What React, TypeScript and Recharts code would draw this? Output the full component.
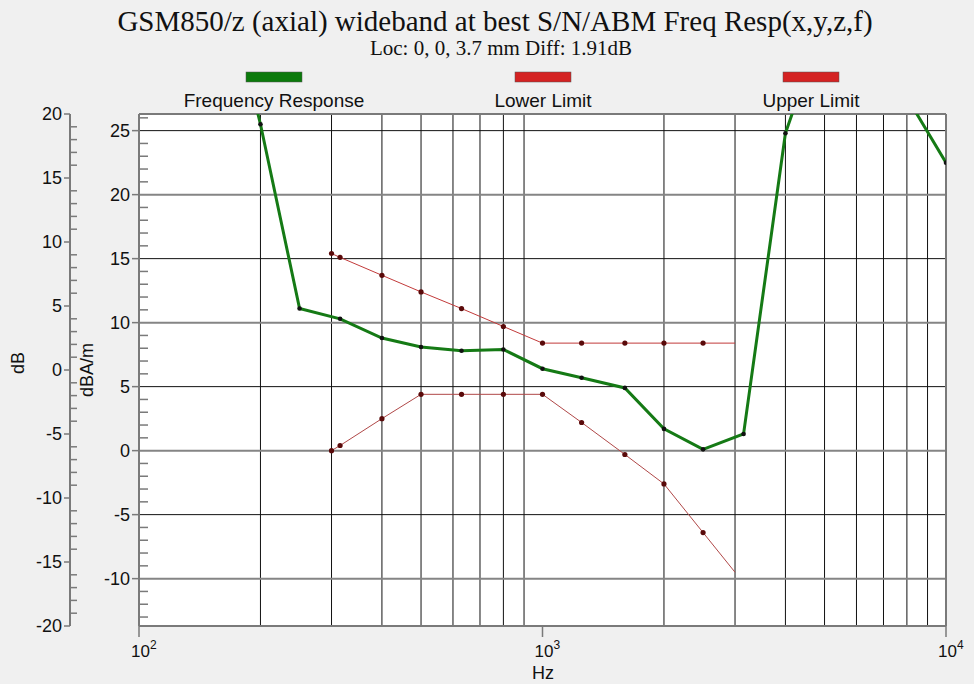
import { ComposedChart, Line, XAxis, YAxis, ReferenceLine, CartesianGrid } from 'recharts';

// 1/3 octave points of the measured response (dBA/m)
const respFreqs = [160, 200, 250, 315, 400, 500, 630, 800, 1000, 1250, 1600, 2000, 2500, 3150, 4000, 5000, 6300, 8000, 10000];
const respValues = [38, 25.5, 11.1, 10.3, 8.8, 8.1, 7.8, 7.9, 6.4, 5.7, 4.9, 1.7, 0.1, 1.3, 24.8, 33.6, 34, 27.6, 22.5];

// limit mask
const limitFreqs = [300, 315, 400, 500, 630, 800, 1000, 1250, 1600, 2000, 2500, 3000];
const upperLimit = [15.4, 15.1, 13.7, 12.4, 11.1, 9.7, 8.4, 8.4, 8.4, 8.4, 8.4, 8.4];
const lowerLimit = [0.0, 0.4, 2.5, 4.4, 4.4, 4.4, 4.4, 2.2, -0.3, -2.6, -6.4, -9.5];

const xTicks = [100, 1000, 10000];
const xGrid = [200, 300, 400, 500, 600, 700, 800, 900, 2000, 3000, 4000, 5000, 6000, 7000, 8000, 9000];
const yGridDark = [25, 15, 5, -5];
const yGridGray = [20, 10, 0, -10];
const dbaDomain = [-13.7, 26.3];
const dbDomain = [-20, 20];

const range = (a: number, b: number) => {
  const out: number[] = [];
  for (let i = a; i <= b; i++) out.push(i);
  return out;
};
const dbaTicks = range(-13, 26);
const dbTicks = range(-20, 20);

const respData = respFreqs.map((f, i) => ({ f, v: respValues[i] }));
const upperData = limitFreqs.map((f, i) => ({ f, v: upperLimit[i] }));
const lowerData = limitFreqs.map((f, i) => ({ f, v: lowerLimit[i] }));

const SANS = 'Arial, "Liberation Sans", sans-serif';
const SERIF = '"Times New Roman", "Liberation Serif", serif';
const AXIS = '#7a7a7a';

const makeYTick = (majorLen: number, minorLen: number) => (props: any) => {
  const { x, y, payload } = props;
  const v = payload.value;
  if (v % 5 === 0) {
    return (
      <g>
        <line x1={x - majorLen} y1={y} x2={x} y2={y} stroke={AXIS} strokeWidth={1.5} />
        <text x={x - majorLen - 2} y={y} textAnchor="end" dominantBaseline="central" fontSize={18} fontFamily={SANS} fill="#111">
          {v}
        </text>
      </g>
    );
  }
  return <line x1={x} y1={y} x2={x + minorLen} y2={y} stroke={AXIS} strokeWidth={1.5} />;
};

const PowTick = (props: any) => {
  const { x, y, payload } = props;
  const exp = Math.round(Math.log10(payload.value));
  return (
    <g>
      <line x1={x} y1={y} x2={x} y2={y + 11} stroke={AXIS} strokeWidth={1.5} />
      <text x={x - 8} y={y + 31} fontSize={17} fontFamily={SANS} fill="#111">
        10
        <tspan dy={-8} fontSize={12}>{exp}</tspan>
      </text>
    </g>
  );
};

const limitDot = (last: number) => (p: any) =>
  p.index === last ? (
    <g key={`e${p.index}`} />
  ) : (
    <circle key={`d${p.index}`} cx={p.cx} cy={p.cy} r={2.6} fill="#5a0a0a" />
  );

const legendItems = [
  { label: 'Frequency Response', color: '#0b7a0b', cx: 274 },
  { label: 'Lower Limit', color: '#d42222', cx: 543 },
  { label: 'Upper Limit', color: '#d42222', cx: 811 },
];

export default function App() {
  return (
    <div style={{ position: 'absolute', left: 0, top: 0, width: 974, height: 684, background: '#f0f0f0', overflow: 'hidden' }}>
      <ComposedChart width={974} height={684} data={respData} margin={{ top: 114, right: 28, bottom: 0, left: 0 }}>
        <CartesianGrid yAxisId="a" fill="#fff" stroke="none" horizontal={false} vertical={false} />
        <XAxis
          dataKey="f"
          type="number"
          scale="log"
          domain={[100, 10000]}
          allowDataOverflow
          ticks={xTicks}
          interval={0}
          tickSize={0}
          tickMargin={0}
          tickLine={false}
          tick={PowTick}
          height={58}
          axisLine={{ stroke: AXIS, strokeWidth: 2 }}
        />
        {/* dBA/m axis, next to the plot */}
        <YAxis
          yAxisId="a"
          type="number"
          domain={dbaDomain}
          allowDataOverflow
          ticks={dbaTicks}
          interval={0}
          width={69}
          tickSize={0}
          tickMargin={0}
          tickLine={false}
          tick={makeYTick(7, 9)}
          axisLine={{ stroke: AXIS, strokeWidth: 2 }}
        />
        {/* dB axis, outer */}
        <YAxis
          yAxisId="b"
          type="number"
          domain={dbDomain}
          allowDataOverflow
          ticks={dbTicks}
          interval={0}
          width={70}
          tickSize={0}
          tickMargin={0}
          tickLine={false}
          tick={makeYTick(6, 7)}
          axisLine={{ stroke: AXIS, strokeWidth: 2 }}
        />
        {xGrid.map((f) => (
          <ReferenceLine key={`x${f}`} x={f} yAxisId="a" stroke="#111" strokeWidth={1} />
        ))}
        {yGridDark.map((v) => (
          <ReferenceLine key={`yd${v}`} y={v} yAxisId="a" stroke="#111" strokeWidth={1} />
        ))}
        {yGridGray.map((v) => (
          <ReferenceLine key={`yg${v}`} y={v} yAxisId="a" stroke="#858585" strokeWidth={2} />
        ))}
        <ReferenceLine y={dbaDomain[1]} yAxisId="a" stroke={AXIS} strokeWidth={2} />
        <ReferenceLine x={10000} yAxisId="a" stroke={AXIS} strokeWidth={2} />
        <Line
          yAxisId="a"
          data={upperData}
          dataKey="v"
          name="Upper Limit"
          stroke="#c23a3a"
          strokeWidth={1}
          dot={limitDot(upperData.length - 1)}
          isAnimationActive={false}
        />
        <Line
          yAxisId="a"
          data={lowerData}
          dataKey="v"
          name="Lower Limit"
          stroke="#b04848"
          strokeWidth={1}
          dot={limitDot(lowerData.length - 1)}
          isAnimationActive={false}
        />
        <Line
          yAxisId="a"
          data={respData}
          dataKey="v"
          name="Frequency Response"
          stroke="#157a15"
          strokeWidth={3}
          dot={{ r: 2.3, fill: '#111', stroke: 'none' }}
          isAnimationActive={false}
        />
      </ComposedChart>
      <svg width={974} height={684} style={{ position: 'absolute', left: 0, top: 0, pointerEvents: 'none' }}>
        <text x={495} y={31} textAnchor="middle" fontSize={29} fontFamily={SERIF} fill="#111">
          GSM850/z (axial) wideband at best S/N/ABM Freq Resp(x,y,z,f)
        </text>
        <text x={501} y={55} textAnchor="middle" fontSize={21} fontFamily={SERIF} fill="#111">
          Loc: 0, 0, 3.7 mm Diff: 1.91dB
        </text>
        {legendItems.map((it) => (
          <g key={it.label}>
            <rect x={it.cx - 28} y={72} width={56} height={10} fill={it.color} stroke="#555" strokeWidth={0.5} />
            <text x={it.cx} y={107} textAnchor="middle" fontSize={19} fontFamily={SANS} fill="#111">
              {it.label}
            </text>
          </g>
        ))}
        <text transform="translate(24,363) rotate(-90)" textAnchor="middle" fontSize={18} fontFamily={SANS} fill="#111">
          dB
        </text>
        <text transform="translate(93,370) rotate(-90)" textAnchor="middle" fontSize={18} fontFamily={SANS} fill="#111">
          dBA/m
        </text>
        <text x={543} y={679} textAnchor="middle" fontSize={18} fontFamily={SANS} fill="#111">
          Hz
        </text>
      </svg>
    </div>
  );
}
